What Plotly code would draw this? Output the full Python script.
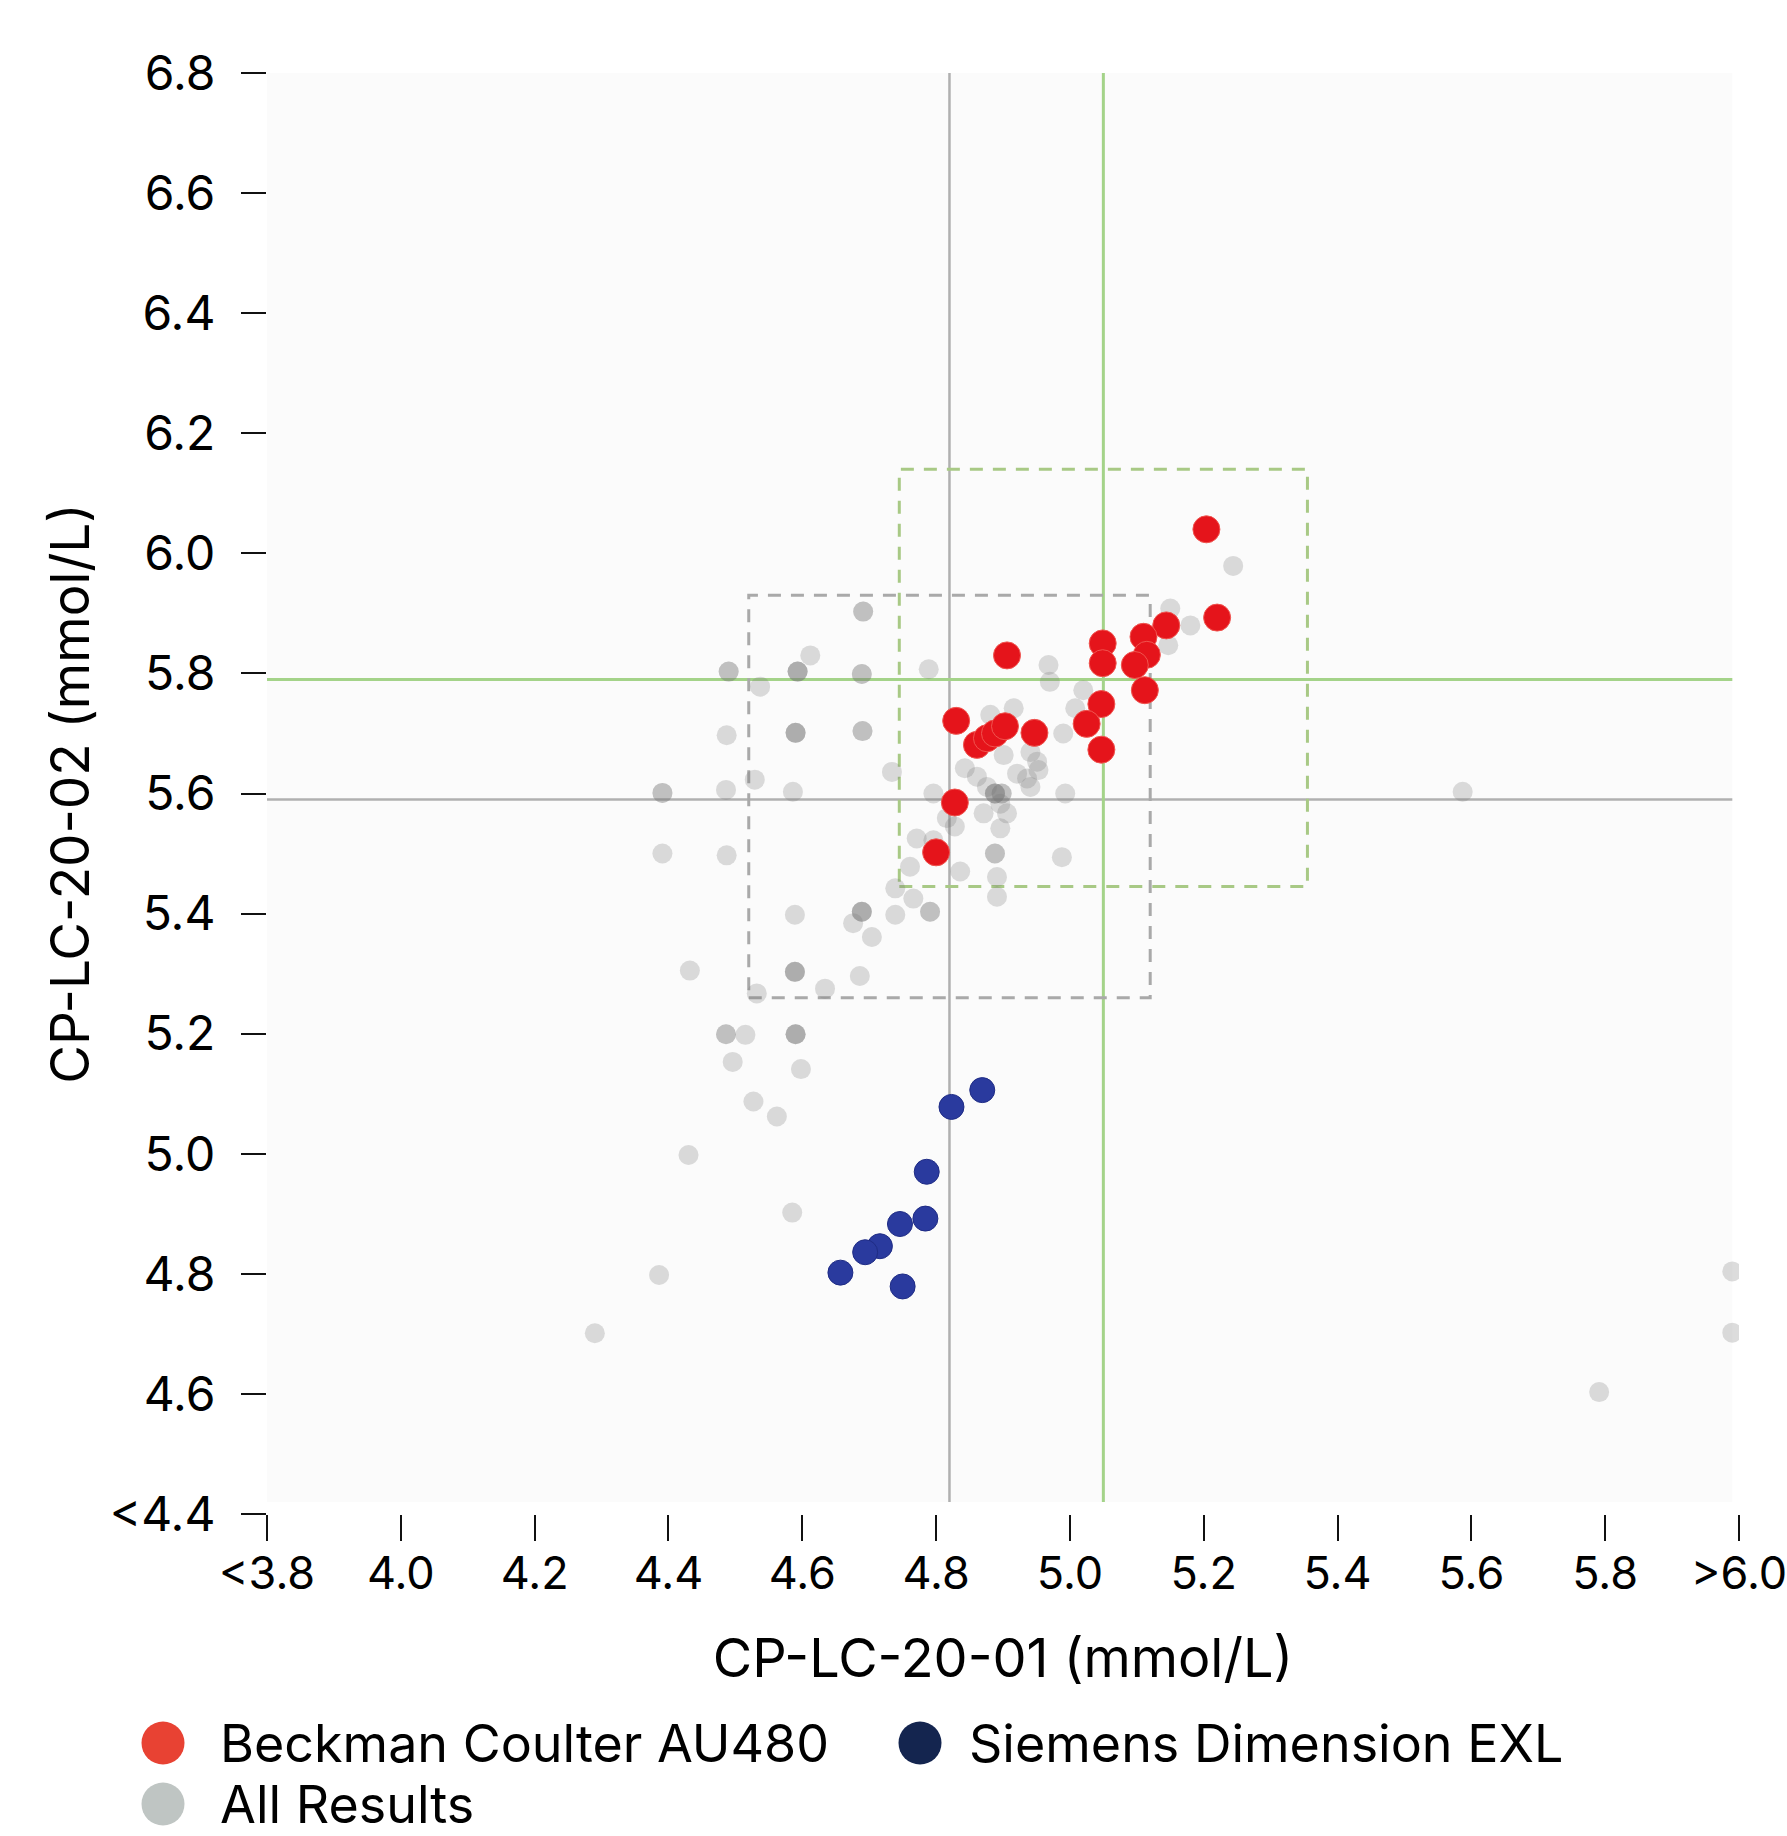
import plotly.graph_objects as go

# ---------------- data ----------------
beckman_x = [5.204, 5.220, 5.144, 5.110, 5.115, 5.097, 5.112, 5.049, 5.049, 4.906,
             5.047, 5.025, 5.047, 4.830, 4.861, 4.876, 4.888, 4.903, 4.947, 4.828, 4.800]
beckman_y = [6.040, 5.893, 5.880, 5.861, 5.831, 5.814, 5.772, 5.850, 5.817, 5.830,
             5.749, 5.716, 5.673, 5.721, 5.681, 5.692, 5.700, 5.712, 5.701, 5.585, 5.502]

siemens_x = [4.869, 4.823, 4.786, 4.784, 4.746, 4.716, 4.694, 4.657, 4.750]
siemens_y = [5.106, 5.078, 4.970, 4.892, 4.883, 4.846, 4.836, 4.802, 4.779]

all_x = [
    4.691, 4.691, 4.612, 4.490, 4.490, 4.593, 4.593, 4.593, 4.689, 4.689, 4.537,
    4.487, 4.590, 4.590, 4.590, 4.690, 4.690, 4.529, 4.391, 4.391, 4.486, 4.586,
    4.391, 4.487, 4.689, 4.689, 4.689, 4.676, 4.704, 4.739, 4.791, 4.791, 4.589,
    4.432, 4.589, 4.589, 4.589, 4.686, 4.634, 4.532,
    4.789, 4.968, 4.970, 5.020, 5.008, 4.881, 4.916, 4.990, 4.901, 4.941, 4.951,
    4.734, 4.843, 4.861, 4.876, 4.888, 4.888, 4.888, 4.898, 4.898, 4.896, 4.921,
    4.936, 4.953, 4.941, 4.993, 4.796, 4.871, 4.906, 4.896, 4.816, 4.828, 4.771,
    4.796, 4.888, 4.888, 4.988, 4.836, 4.761, 4.739, 4.891, 4.891, 4.766,
    5.244, 5.150, 5.180, 5.147,
    4.486, 4.486, 4.515, 4.590, 4.590, 4.590, 4.496, 4.598, 4.527, 4.562, 4.430,
    4.585, 4.386, 4.290,
    5.587, 5.990, 5.990, 5.791,
]
all_y = [
    5.903, 5.903, 5.830, 5.803, 5.803, 5.803, 5.803, 5.803, 5.799, 5.799, 5.778,
    5.697, 5.701, 5.701, 5.701, 5.704, 5.704, 5.623, 5.601, 5.601, 5.606, 5.603,
    5.500, 5.497, 5.403, 5.403, 5.403, 5.384, 5.361, 5.398, 5.403, 5.403, 5.398,
    5.305, 5.303, 5.303, 5.303, 5.296, 5.275, 5.267,
    5.807, 5.814, 5.786, 5.772, 5.742, 5.731, 5.742, 5.700, 5.664, 5.669, 5.653,
    5.636, 5.642, 5.628, 5.611, 5.600, 5.600, 5.600, 5.600, 5.600, 5.583, 5.633,
    5.625, 5.639, 5.611, 5.600, 5.600, 5.567, 5.567, 5.542, 5.559, 5.545, 5.525,
    5.522, 5.500, 5.500, 5.494, 5.470, 5.478, 5.442, 5.461, 5.428, 5.425,
    5.979, 5.908, 5.880, 5.847,
    5.199, 5.199, 5.198, 5.199, 5.199, 5.199, 5.153, 5.141, 5.087, 5.062, 4.998,
    4.902, 4.798, 4.701,
    5.603, 4.804, 4.702, 4.603,
]

# consensus values (all results / peer group) and their acceptance boxes
all_center = [4.82, 5.59]
peer_center = [5.05, 5.79]
all_box_x = [4.52, 5.12]
all_box_y = [5.26, 5.93]
peer_box_x = [4.745, 5.355]
peer_box_y = [5.445, 6.14]
plot_x_limits = [3.8, 5.99]
plot_y_limits = [4.42, 6.8]

x_tickvals = [3.8, 4.0, 4.2, 4.4, 4.6, 4.8, 5.0, 5.2, 5.4, 5.6, 5.8, 6.0]
x_ticktext = ["<3.8", "4.0", "4.2", "4.4", "4.6", "4.8", "5.0", "5.2", "5.4", "5.6", "5.8", ">6.0"]
y_tickvals = [4.4, 4.6, 4.8, 5.0, 5.2, 5.4, 5.6, 5.8, 6.0, 6.2, 6.4, 6.6, 6.8]
y_ticktext = ["<4.4", "4.6", "4.8", "5.0", "5.2", "5.4", "5.6", "5.8", "6.0", "6.2", "6.4", "6.6", "6.8"]

legend_labels = ["Beckman Coulter AU480", "Siemens Dimension EXL", "All Results"]
legend_colors = ["#e84233", "#14254f", "#bfc5c3"]

FONT = "Inter, Lato, 'Open Sans', sans-serif"
W, H = 1787, 1836
ML, MR, MT, MB = 267, 48, 73, 322
PW, PH = W - ML - MR, H - MT - MB

fig = go.Figure()
fig.add_trace(go.Scatter(x=all_x, y=all_y, mode="markers", name=legend_labels[2],
                         marker=dict(size=20, color="rgba(120,120,120,0.26)", line=dict(width=0)),
                         showlegend=False))
fig.add_trace(go.Scatter(x=siemens_x, y=siemens_y, mode="markers", name=legend_labels[1],
                         marker=dict(size=25, color="#2a3a9e", line=dict(width=1, color="#1f2c85")),
                         showlegend=False))
fig.add_trace(go.Scatter(x=beckman_x, y=beckman_y, mode="markers", name=legend_labels[0],
                         marker=dict(size=27, color="#e5141b", line=dict(width=1, color="#f0544f")),
                         showlegend=False))

shapes = []
shapes.append(dict(type="rect", xref="x", yref="y", x0=plot_x_limits[0], x1=plot_x_limits[1],
                   y0=plot_y_limits[0], y1=plot_y_limits[1], fillcolor="#fbfbfb",
                   line=dict(width=0), layer="below"))
for cx, cy, col, w in [(all_center[0], all_center[1], "#b0b0b0", 2.5),
                       (peer_center[0], peer_center[1], "#a4d389", 3)]:
    shapes.append(dict(type="line", xref="x", yref="y", x0=cx, x1=cx,
                       y0=plot_y_limits[0], y1=plot_y_limits[1], line=dict(color=col, width=w), layer="below"))
    shapes.append(dict(type="line", xref="x", yref="y", x0=plot_x_limits[0], x1=plot_x_limits[1],
                       y0=cy, y1=cy, line=dict(color=col, width=w), layer="below"))
shapes.append(dict(type="rect", xref="x", yref="y", x0=all_box_x[0], x1=all_box_x[1],
                   y0=all_box_y[0], y1=all_box_y[1],
                   line=dict(color="#a9a9a9", width=3, dash="13px,10px"), layer="below"))
shapes.append(dict(type="rect", xref="x", yref="y", x0=peer_box_x[0], x1=peer_box_x[1],
                   y0=peer_box_y[0], y1=peer_box_y[1],
                   line=dict(color="#a8c985", width=3, dash="13px,10px"), layer="below"))


def px_to_paper_x(px):
    return (px - ML) / PW


def px_to_paper_y(py):
    return (H - MB - py) / PH


legend_pos = [(163, 1743, 55), (920, 1743, 47), (163, 1804, 55)]
annotations = []
for (cx, cy, gap), lab, col in zip(legend_pos, legend_labels, legend_colors):
    shapes.append(dict(type="circle", xref="paper", yref="paper", xsizemode="pixel", ysizemode="pixel",
                       xanchor=px_to_paper_x(cx), yanchor=px_to_paper_y(cy),
                       x0=-21.5, x1=21.5, y0=-21.5, y1=21.5, fillcolor=col, line=dict(width=0)))
    annotations.append(dict(xref="paper", yref="paper", x=px_to_paper_x(cx + gap), y=px_to_paper_y(cy),
                            xanchor="left", yanchor="middle", showarrow=False, text=lab,
                            height=56, valign="middle",
                            font=dict(family=FONT, size=52, color="#000000")))

fig.update_layout(
    width=W, height=H,
    margin=dict(l=ML, r=MR, t=MT, b=MB, autoexpand=False),
    paper_bgcolor="white", plot_bgcolor="white",
    shapes=shapes, annotations=annotations,
    showlegend=False,
    font=dict(family=FONT, color="#000000"),
)
fig.update_xaxes(range=[3.8, 6.0], tickvals=x_tickvals, ticktext=x_ticktext,
                 ticks="outside", ticklen=26, tickwidth=2, tickcolor="#111111",
                 tickfont=dict(family=FONT, size=45, color="#000000"),
                 ticklabelstandoff=-6, ticklabeloverflow="allow",
                 showgrid=False, zeroline=False, showline=False,
                 title=dict(text="CP-LC-20-01 (mmol/L)", font=dict(family=FONT, size=54, color="#000000"),
                            standoff=40),
                 automargin=False)
fig.update_yaxes(range=[4.4, 6.8], tickvals=y_tickvals, ticktext=y_ticktext,
                 ticks="outside", ticklen=25, tickwidth=2, tickcolor="#111111",
                 tickfont=dict(family=FONT, size=48, color="#000000"),
                 ticklabelstandoff=16,
                 showgrid=False, zeroline=False, showline=False,
                 title=dict(text="CP-LC-20-02 (mmol/L)", font=dict(family=FONT, size=53, color="#000000"),
                            standoff=2),
                 automargin=False)

fig.write_html(
    "out.html",
    config={"displayModeBar": False},
    post_script="document.body.style.margin='0';document.body.style.overflow='hidden';",
)
